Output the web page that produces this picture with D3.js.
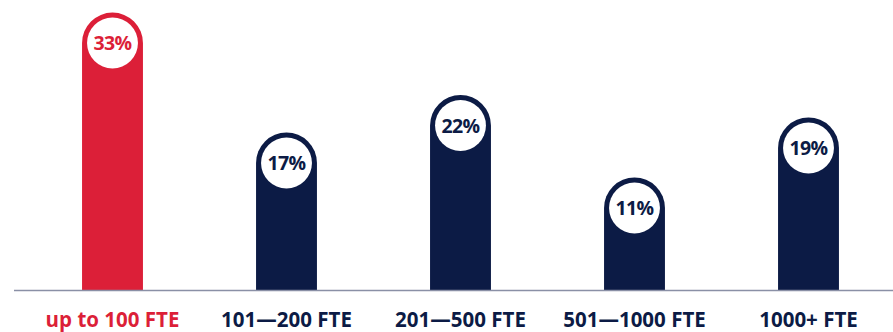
<!DOCTYPE html>
<html><head><meta charset="utf-8">
<script src="https://cdn.jsdelivr.net/npm/d3@7"></script>
<style>
html,body{margin:0;padding:0;background:#fff;}
svg{display:block;font-family:"Open Sans",sans-serif;}
</style></head>
<body><svg id="chart" width="893" height="332"></svg>
<script>
const categories = ["up to 100 FTE","101\u2014200 FTE","201\u2014500 FTE","501\u20141000 FTE","1000+ FTE"];
const values = [33,17,22,11,19];
const highlight = [true,false,false,false,false];

const RED = "#dc1f38", NAVY = "#0c1b45";
const svg = d3.select("#chart");
const baseY = 290.5;
const x = d3.scaleBand().domain(categories).range([25.5,895.5]).paddingInner(0.65).paddingOuter(0.325);
const y = d3.scaleLinear().domain([0,40]).range([baseY, baseY-300]);
const bw = x.bandwidth(), r = bw/2;

const data = categories.map((c,i)=>({c, v:values[i], h:highlight[i]}));

const g = svg.append("g");
g.selectAll("path.bar").data(data).join("path")
  .attr("class","bar")
  .attr("fill", d=>d.h?RED:NAVY)
  .attr("d", d=>{
    const x0 = x(d.c), x1 = x0+bw, yt = y(d.v);
    return `M${x0},${baseY}L${x0},${yt}A${r},${r} 0 0 1 ${x1},${yt}L${x1},${baseY}Z`;
  });

svg.append("line").attr("x1",14).attr("x2",893).attr("y1",baseY).attr("y2",baseY)
  .attr("stroke","#8a90a6").attr("stroke-width",1.6);

g.selectAll("circle.lab").data(data).join("circle")
  .attr("cx", d=>x(d.c)+r).attr("cy", d=>y(d.v)).attr("r", r-5)
  .attr("fill","#fff");

g.selectAll("text.val").data(data).join("text")
  .attr("x", d=>x(d.c)+r).attr("y", d=>y(d.v)+7)
  .attr("text-anchor","middle").attr("font-size",19.5).attr("font-weight",700)
  .attr("letter-spacing",-0.6)
  .attr("fill", d=>d.h?RED:NAVY)
  .text(d=>d.v+"%");

g.selectAll("text.cat").data(data).join("text")
  .attr("x", d=>x(d.c)+r).attr("y", 326.5)
  .attr("text-anchor","middle").attr("font-size",20.5).attr("font-weight",700)
  .attr("fill", d=>d.h?RED:NAVY)
  .text(d=>d.c);
</script></body></html>
